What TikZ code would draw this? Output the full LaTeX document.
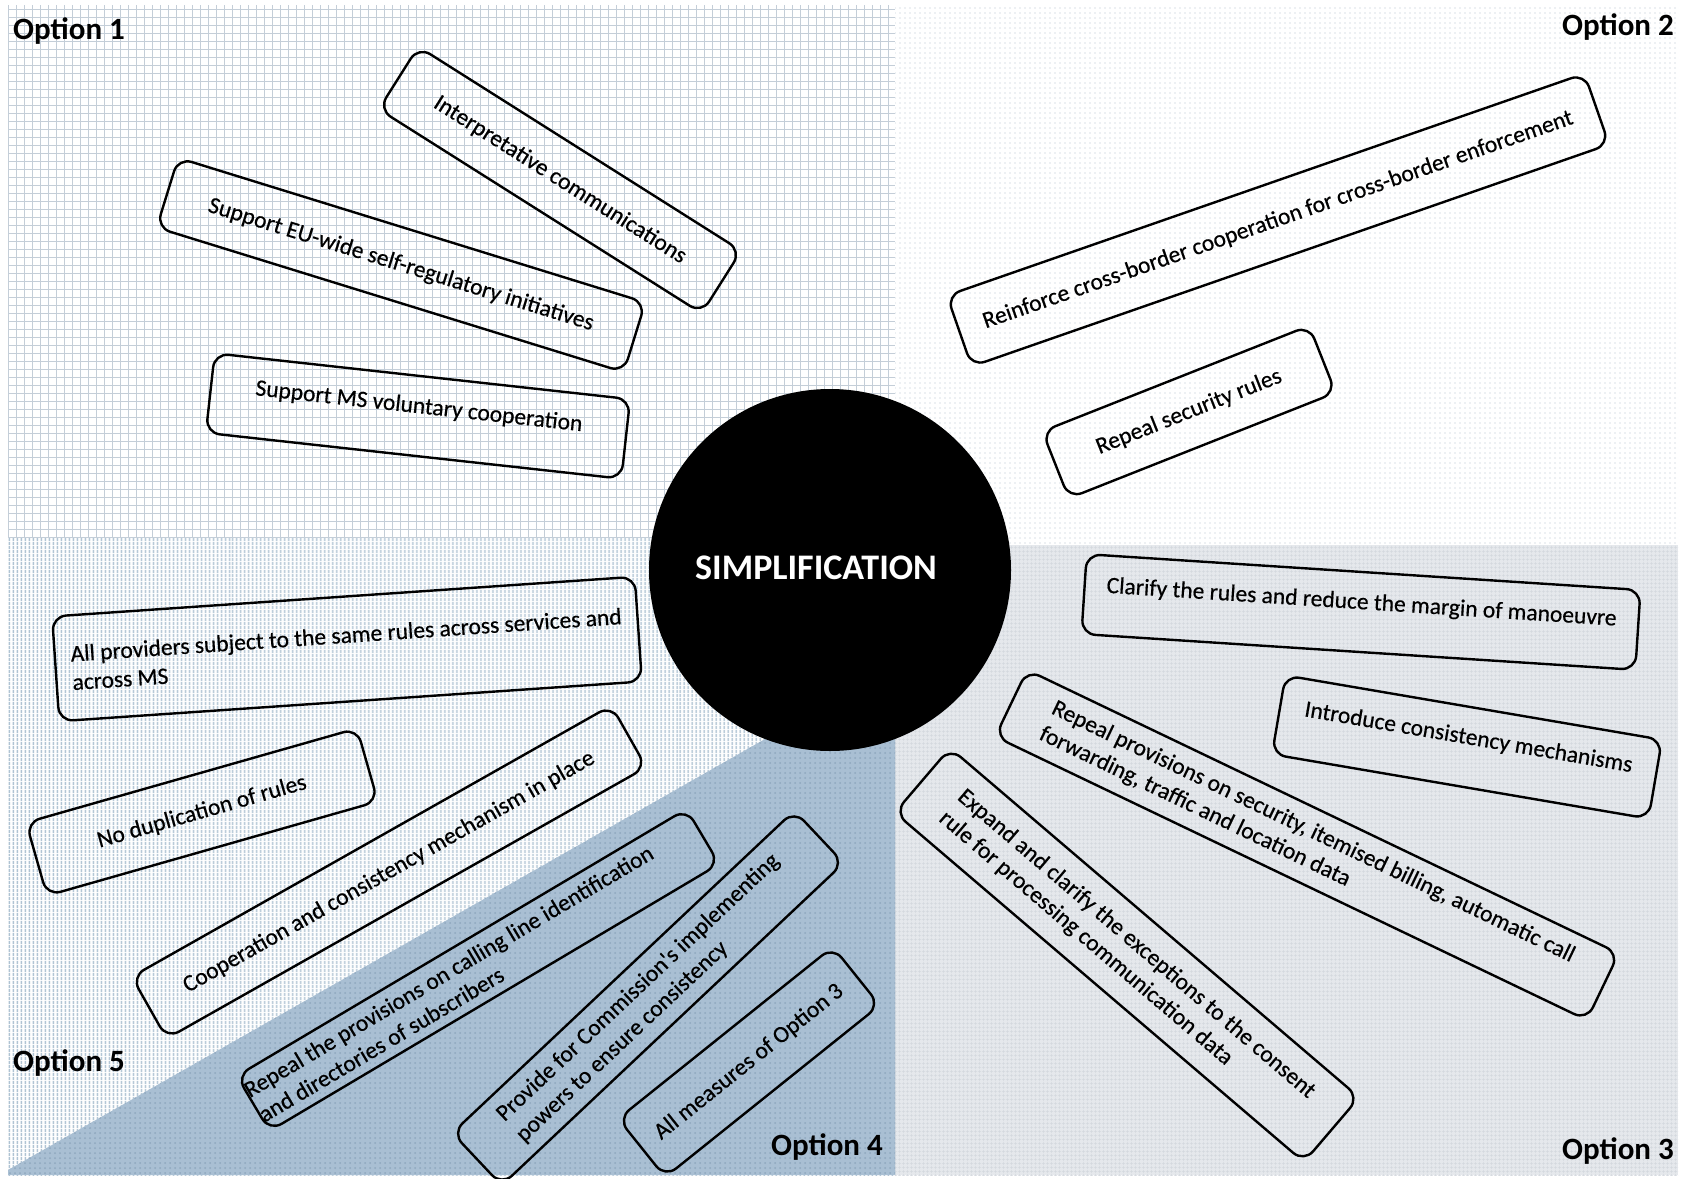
\documentclass[tikz,border=0pt]{standalone}
\usepackage{fontspec}
\setmainfont{Carlito}
\newfontfamily\boxfont{Carlito}[FakeBold=0.5]
\usetikzlibrary{patterns.meta}
\definecolor{gridblue}{HTML}{C4CED8}
\definecolor{dotgrey}{HTML}{DCE2E8}
\definecolor{paleground}{HTML}{E5E8EC}
\definecolor{finegrid}{HTML}{D3D8DE}
\definecolor{stripeblue}{HTML}{AFC3D3}
\definecolor{steelblue}{HTML}{A9BFD3}
\definecolor{steeldots}{HTML}{8EA7BE}

\begin{document}
\begin{tikzpicture}[x=1pt,y=-1pt,
    boxtext/.style={font=\boxfont\fontsize{23.5}{28.5}\selectfont},
    optbox/.style={boxtext, draw=black, line width=2.4pt, rounded corners=14pt, inner sep=6pt},
    hightext/.style={text depth=22pt},
    optlabel/.style={font=\fontsize{31}{36}\selectfont\bfseries, inner sep=0pt}]
    \useasboundingbox (0,0) rectangle (1686,1178);
    \fill[white] (0,0) rectangle (1686,1178);
    \fill[white] (8,5) rectangle (895,538);
    \fill[pattern={Hatch[distance=8pt,line width=1pt]}, pattern color=gridblue] (8,5) rectangle (895,538);
    \fill[white] (895,5) rectangle (1678,545);
    \fill[pattern={Dots[distance=5pt,radius=0.9pt]}, pattern color=dotgrey] (895,5) rectangle (1678,545);
    \fill[paleground] (895,545) rectangle (1678,1175);
    \fill[pattern={Hatch[distance=4pt,line width=0.5pt]}, pattern color=finegrid] (895,545) rectangle (1678,1175);
    \fill[white] (8,538) rectangle (895,1175);
    \fill[pattern={Lines[angle=90,distance=4pt,line width=2pt]}, pattern color=stripeblue] (8,538) rectangle (895,1175);
    \fill[steelblue] (8,1170) -- (895,665) -- (895,1175) -- (8,1175) -- cycle;
    \fill[pattern={Dots[distance=5pt,radius=1pt]}, pattern color=steeldots] (8,1170) -- (895,665) -- (895,1175) -- (8,1175) -- cycle;

    \node[circle, fill=black, minimum size=362pt] (core) at (830,570) {};
    \node[font=\fontsize{36}{40}\selectfont\bfseries, text=white, anchor=base] (simp) at (816,579) {SIMPLIFICATION};

    \node[optlabel, anchor=base west] (opt1) at (13,39) {Option 1};
    \node[optlabel, anchor=base east] (opt2) at (1674,35) {Option 2};
    \node[optlabel, anchor=base east] (opt3) at (1674,1159) {Option 3};
    \node[optlabel, anchor=base east] (opt4) at (883,1155) {Option 4};
    \node[optlabel, anchor=base west] (opt5) at (13,1071) {Option 5};

    \node[optbox, rotate=-32.3, minimum width=382pt, minimum height=74pt] (interp) at (560,180) {Interpretative communications};
    \node[optbox, rotate=-17.2, minimum width=489pt, minimum height=73pt] (euwide) at (401,265) {Support EU-wide self-regulatory initiatives};
    \node[optbox, hightext, rotate=-6.3, minimum width=418pt, minimum height=80pt] (voluntary) at (418,416) {Support MS voluntary cooperation};

    \node[optbox, rotate=19.2, minimum width=675pt, minimum height=75pt] (crossborder) at (1278,220) {Reinforce cross-border cooperation for cross-border enforcement};
    \node[optbox, rotate=21.6, minimum width=287pt, minimum height=72pt] (security) at (1189,412) {Repeal security rules};

    \node[optbox, hightext, rotate=-3.7, minimum width=555pt, minimum height=80pt] (clarify) at (1361,612) {Clarify the rules and reduce the margin of manoeuvre};
    \node[optbox, hightext, rotate=-9.7, minimum width=382pt, minimum height=80pt] (consist) at (1467,747) {Introduce consistency mechanisms};
    \node[optbox, rotate=-25.6, minimum width=656pt, minimum height=74pt, align=left] (provisions) at (1307,845)
        {Repeal provisions on security, itemised billing, automatic call\\forwarding, traffic and location data};
    \node[optbox, rotate=-40.5, minimum width=538pt, minimum height=85pt, align=left] (consent) at (1127,955)
        {Expand and clarify the exceptions to the consent\\rule for processing communication data};

    \node[optbox, rotate=3.9, minimum width=584pt, minimum height=105pt, align=left] (providers) at (347,649)
        {All providers subject to the same rules across services and\\across MS};
    \node[optbox, rotate=15.9, minimum width=344pt, minimum height=76pt] (duplic) at (202,812) {No duplication of rules};
    \node[optbox, rotate=29.5, minimum width=551pt, minimum height=71pt] (coop) at (389,872) {Cooperation and consistency mechanism in place};

    \node[optbox, rotate=30.7, inner xsep=0pt, text width=523pt, minimum height=64pt, align=flush left] (calling) at (478,970)
        {Repeal the provisions on calling line identification\\and directories of subscribers};
    \node[optbox, rotate=43.3, minimum width=470pt, minimum height=72pt, align=left] (powers) at (648,998)
        {Provide for Commission's implementing\\powers to ensure consistency};
    \node[optbox, rotate=38.7, minimum width=275pt, minimum height=75pt] (measures) at (749,1062) {All measures of Option 3};
\end{tikzpicture}
\end{document}
